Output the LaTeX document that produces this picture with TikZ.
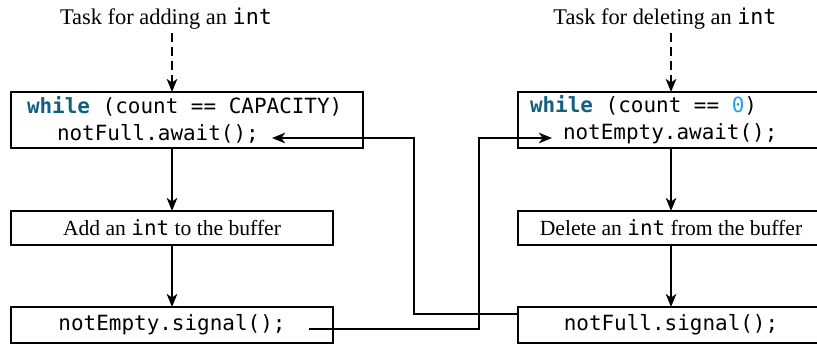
\documentclass[tikz,border=0pt]{standalone}
\usepackage{fontspec}
\setmainfont{Liberation Serif}
\setmonofont[Scale=0.97]{DejaVu Sans Mono}
\usetikzlibrary{arrows.meta,calc}

\definecolor{kwblue}{HTML}{12607F}
\definecolor{numcyan}{HTML}{1FA2E0}
\newcommand{\kw}[1]{\textbf{\textcolor{kwblue}{#1}}}
\newcommand{\num}[1]{\textcolor{numcyan}{#1}}
\newcommand{\code}[1]{{\ttfamily\spaceskip=0.602em\relax #1}}

\tikzset{
  box/.style={draw, line width=0.6pt, outer sep=0, inner sep=0, font=\fontsize{10.8}{13.5}\selectfont},
  codebox/.style={box, align=left, minimum height=28pt},
  title/.style={anchor=south, inner ysep=1.8pt, font=\fontsize{11.2}{13.5}\selectfont},
  flow/.style={line width=1.3pt, -{Stealth[length=6.5pt, width=5.2pt, inset=1.8pt]}},
  dashflow/.style={flow, dash pattern=on 4.5pt off 2.5pt},
}

\begin{document}
\begin{tikzpicture}[x=0.5pt, y=-0.5pt]
      \clip (0,0) rectangle (817,344);

      % left task: adding
      \node[title] (addtask) at (166,33) {Task for adding an \texttt{int}};

      \draw (11,92) node[codebox, anchor=north west, inner xsep=8pt, text width=160pt] (addwait) {\code{\kw{while} (count == CAPACITY)}\\ \code{\hspace*{15pt}notFull.await();}};

      \draw (11,211) node[box, anchor=north west, minimum width=161pt, minimum height=17pt] (addbuf) {Add an \texttt{int} to the buffer};

      \draw (11,307) node[box, anchor=north west, minimum width=161pt, minimum height=18pt] (addsig) {\code{notEmpty.signal();}};

      % right task: deleting
      \node[title] (deltask) at (665,33) {Task for deleting an \texttt{int}};

      \draw (518,92) node[codebox, anchor=north west, inner xsep=6pt, text width=141pt] (delwait) {\code{\kw{while} (count == \num{0})}\\ \code{\hspace*{16.5pt}notEmpty.await();}};

      \draw (518,211) node[box, anchor=north west, minimum width=153pt, minimum height=17pt] (delbuf) {Delete an \texttt{int} from the buffer};

      \draw (518,307) node[box, anchor=north west, minimum width=153pt, minimum height=18pt] (delsig) {\code{notFull.signal();}};

      % flow within each task
      \draw[dashflow] (addbuf |- addtask.south) -- (addbuf |- addwait.north);
      \draw[flow] (addbuf |- addwait.south) -- (addbuf.north);
      \draw[flow] (addbuf) -- (addsig);

      \draw[dashflow] (delbuf |- deltask.south) -- (delbuf |- delwait.north);
      \draw[flow] (delwait) -- (delbuf);
      \draw[flow] (delbuf) -- (delsig);

      % signals across the tasks
      \coordinate (lbend) at (414,138);
      \coordinate (rbend) at (479,138);
      \draw[flow] ([yshift=5.5pt]delsig.west) -| (lbend) -- ([shift={(-45.5pt,-9pt)}]addwait.east);
      \draw[flow] ([shift={(-12pt,-2pt)}]addsig.east) -| (rbend) -- ([shift={(17pt,-9pt)}]delwait.west);
\end{tikzpicture}
\end{document}
